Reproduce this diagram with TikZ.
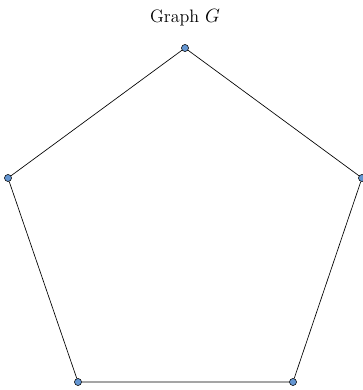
\documentclass[tikz,border=0pt]{standalone}
\usepackage{tikz}
\usetikzlibrary{positioning}
\definecolor{vblue}{RGB}{100,150,210}
\tikzset{
  vert/.style={draw,circle,fill=vblue,line width=0.4pt,minimum size=5.3pt,inner sep=0pt},
  edge/.style={draw,line width=0.5pt},
  ttl/.style={font=\fontsize{13.5}{16}\selectfont}
}
\begin{document}
\begin{tikzpicture}[x=0.75pt,y=-0.75pt]
\useasboundingbox (0,0) rectangle (363,390);
\node[ttl](title)at(185,18){Graph $G$};
\node[vert](a)at(185,48){};
\node[vert](b)at(362,178){};
\node[vert](c)at(293,382){};
\node[vert](d)at(78,382){};
\node[vert](e)at(8,178){};
\draw[edge](a)--(b)--(c)--(d)--(e)--(a);
\end{tikzpicture}
\end{document}
